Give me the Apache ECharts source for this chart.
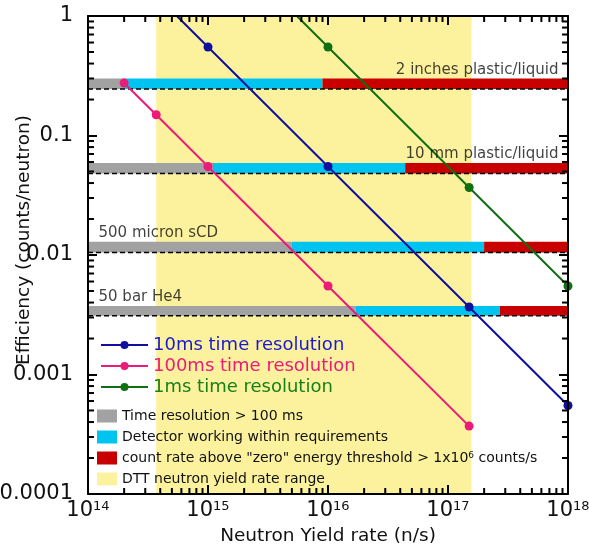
<!DOCTYPE html>
<html>
<head>
<meta charset="utf-8">
<script src="https://cdn.jsdelivr.net/npm/echarts@6/dist/echarts.min.js"></script>
<style>
  html, body { margin: 0; padding: 0; background: #fff; }
  #main { width: 589px; height: 551px; }
</style>
</head>
<body>
<div id="main"></div>
<script>
// Axis ranges (log scale)
const xRange = [1e14, 1e18];
const yRange = [1e-4, 1];
const xDecades = [14, 15, 16, 17];
const yDecades = [-4, -3, -2, -1];
const yTickLabels = { '-4': '0.0001', '-3': '0.001', '-2': '0.01', '-1': '0.1', '0': '1' };

// Efficiency vs neutron yield rate for each time resolution
// (first point of 10ms and 1ms is where the line leaves the frame)
const res10ms = [[5.5e14, 1], [1e15, 0.55], [1e16, 0.055], [1.5e17, 0.00367], [1e18, 0.00055]];
const res100ms = [[2e14, 0.275], [3.7e14, 0.149], [1e15, 0.055], [1e16, 0.0055], [1.5e17, 0.00037]];
const res1ms = [[5.5e15, 1], [1e16, 0.55], [1.5e17, 0.0367], [1e18, 0.0055]];

// Detectors: efficiency (dashed), band top, end of slow region, start of saturation
const detectorNames = ['2 inches plastic/liquid', '10 mm plastic/liquid', '500 micron sCD', '50 bar He4'];
const detectorEfficiency = [0.245, 0.048, 0.0105, 0.0031];
const detectorBandTop = [0.30, 0.059, 0.0129, 0.00375];
const slowUntil = [2e14, 1.1e15, 5e15, 1.7e16];
const saturatedFrom = [9e15, 4.4e16, 2.0e17, 2.7e17];
const labelAtRight = [true, true, false, false];

// DTT neutron yield rate range
const dttRange = [3.7e14, 1.57e17];

const legendBoxes = ['Time resolution > 100 ms', 'Detector working within requirements',
  'count rate above "zero" energy threshold > 1x10^6 counts/s', 'DTT neutron yield rate range'];

const C = {
  blue: '#10109e', pink: '#ec1a78', green: '#0f6f12',
  gray: '#a2a2a2', cyan: '#00c4f0', red: '#c80000', yellow: '#fcf29d'
};
const FONT = 'DejaVu Sans';

function rectItem(params, api) {
  const a = api.coord([api.value(0), api.value(3)]);
  const b = api.coord([api.value(1), api.value(2)]);
  return { type: 'rect', shape: { x: a[0], y: a[1], width: b[0] - a[0], height: b[1] - a[1] }, style: api.style() };
}

const slowBands = detectorNames.map((n, i) => [xRange[0], slowUntil[i], detectorEfficiency[i], detectorBandTop[i]]);
const okBands = detectorNames.map((n, i) => [slowUntil[i], saturatedFrom[i], detectorEfficiency[i], detectorBandTop[i]]);
const satBands = detectorNames.map((n, i) => [saturatedFrom[i], xRange[1], detectorEfficiency[i], detectorBandTop[i]]);

function bandSeries(name, data, color, z) {
  return {
    name, type: 'custom', renderItem: rectItem, data, z,
    encode: { x: [0, 1], y: [2, 3] }, itemStyle: { color }, silent: true
  };
}

// minor (2..9) tick values for each decade
const xMinor = [];
xDecades.forEach(d => { for (let m = 2; m <= 9; m++) xMinor.push(m * Math.pow(10, d)); });
const yMinor = [];
yDecades.forEach(d => { for (let m = 2; m <= 9; m++) yMinor.push(m * Math.pow(10, d)); });

function lineSeries(name, data, color, edgeStart) {
  return {
    name, type: 'line', data: data.map((p, i) => (edgeStart && i === 0) ? { value: p, symbol: 'none' } : p),
    symbol: 'circle', symbolSize: 9, color, z: 10,
    lineStyle: { width: 2, color }, itemStyle: { color }
  };
}

const dashedSeries = detectorNames.map((n, i) => ({
  name: 'eff-' + i, type: 'line', symbol: 'none', z: 6, silent: true,
  data: [[xRange[0], detectorEfficiency[i]], [xRange[1], detectorEfficiency[i]]],
  lineStyle: { color: '#000', width: 1.5, type: [5, 3] }
}));

const labelSeries = {
  name: 'detector-labels', type: 'scatter', symbolSize: 1, z: 12, silent: true,
  itemStyle: { color: 'transparent' },
  data: detectorNames.map((n, i) => ({
    name: n,
    value: [labelAtRight[i] ? xRange[1] : xRange[0], detectorEfficiency[i]],
    label: {
      show: true, formatter: '{b}', position: labelAtRight[i] ? 'left' : 'right',
      distance: labelAtRight[i] ? 9 : 10, offset: [0, -19],
      fontFamily: FONT, fontSize: 15, color: '#111'
    }
  }))
};

const axisLine = { show: true, lineStyle: { color: '#000', width: 2 } };
const majorTick = { show: true, inside: true, length: 9, lineStyle: { color: '#000', width: 2 } };

const option = {
  animation: false,
  backgroundColor: '#fff',
  grid: { left: 88, right: 21, top: 16, bottom: 57, outerBoundsMode: 'none' },
  xAxis: [{
    type: 'log', min: xRange[0], max: xRange[1], logBase: 10, z: 30,
    name: 'Neutron Yield rate (n/s)', nameLocation: 'middle', nameGap: 33, nameMoveOverlap: false,
    nameTextStyle: { fontFamily: FONT, fontSize: 18.5, color: '#111' },
    axisLine, axisTick: majorTick, splitLine: { show: false },
    axisLabel: {
      margin: 6, color: '#111',
      formatter: v => '{b|10}{sup|' + Math.round(Math.log10(v)) + '}',
      rich: {
        b: { fontFamily: FONT, fontSize: 21, lineHeight: 22, color: '#111' },
        sup: { fontFamily: FONT, fontSize: 13, verticalAlign: 'top', lineHeight: 13, color: '#111' }
      }
    }
  }, {
    type: 'log', position: 'top', min: xRange[0], max: xRange[1], logBase: 10, z: 30,
    axisLine, axisTick: majorTick, axisLabel: { show: false }, splitLine: { show: false }
  }],
  yAxis: [{
    type: 'log', min: yRange[0], max: yRange[1], logBase: 10, z: 30,
    name: 'Efficiency (counts/neutron)', nameLocation: 'middle', nameGap: 54, nameMoveOverlap: false,
    nameTextStyle: { fontFamily: FONT, fontSize: 18.5, color: '#111', padding: [0, 0, 0, 30] },
    axisLine, axisTick: majorTick, splitLine: { show: false },
    axisLabel: {
      margin: 15, fontFamily: FONT, fontSize: 21, color: '#111',
      formatter: v => yTickLabels[String(Math.round(Math.log10(v)))] || ''
    }
  }, {
    type: 'log', position: 'right', min: yRange[0], max: yRange[1], logBase: 10, z: 30,
    axisLine, axisTick: majorTick, axisLabel: { show: false }, splitLine: { show: false }
  }],
  legend: [{
    orient: 'vertical', left: 100, top: 336, padding: 0, itemGap: 3,
    itemWidth: 47, itemHeight: 10, selectedMode: false,
    textStyle: { fontFamily: FONT, fontSize: 18 },
    data: [
      { name: '10ms time resolution', textStyle: { color: '#1a1ad0' } },
      { name: '100ms time resolution', textStyle: { color: C.pink } },
      { name: '1ms time resolution', textStyle: { color: '#17801a' } }
    ]
  }, {
    orient: 'vertical', left: 97, top: 409, padding: 0, itemGap: 7,
    itemWidth: 20, itemHeight: 13, selectedMode: false, icon: 'rect',
    textStyle: {
      fontFamily: FONT, fontSize: 14, color: '#111',
      rich: {
        n: { fontFamily: FONT, fontSize: 14, color: '#111' },
        sup: { fontFamily: FONT, fontSize: 9, verticalAlign: 'top', color: '#111' }
      }
    },
    formatter: name => {
      const k = name.indexOf('^');
      if (k < 0) return name;
      return '{n|' + name.slice(0, k) + '}{sup|' + name.slice(k + 1, k + 2) + '}{n|' + name.slice(k + 2) + '}';
    },
    data: [
      { name: legendBoxes[0], itemStyle: { color: C.gray } },
      { name: legendBoxes[1], itemStyle: { color: C.cyan } },
      { name: legendBoxes[2], itemStyle: { color: C.red } },
      { name: legendBoxes[3], itemStyle: { color: C.yellow } }
    ]
  }],
  series: [
    bandSeries(legendBoxes[3], [[dttRange[0], dttRange[1], yRange[0], yRange[1]]], C.yellow, 1),
    bandSeries(legendBoxes[0], slowBands, C.gray, 3),
    bandSeries(legendBoxes[1], okBands, C.cyan, 3),
    bandSeries(legendBoxes[2], satBands, C.red, 3),
    ...dashedSeries,
    lineSeries('10ms time resolution', res10ms, C.blue, true),
    lineSeries('100ms time resolution', res100ms, C.pink, false),
    lineSeries('1ms time resolution', res1ms, C.green, true),
    labelSeries
  ]
};

const chart = echarts.init(document.getElementById('main'), null, { renderer: 'canvas' });
chart.setOption(option);

// Minor log ticks (2..9 per decade) on the inner side of all four frame edges,
// placed through the chart's own axis scales.
const MINOR = 6;
const toPx = p => chart.convertToPixel({ gridIndex: 0 }, p);
const tick = (x1, y1, x2, y2) => ({
  type: 'line', silent: true, z: 100,
  shape: { x1, y1, x2, y2 }, style: { stroke: '#000', lineWidth: 2 }
});
const minorTicks = [];
xMinor.forEach(v => {
  const b = toPx([v, yRange[0]]);
  const t = toPx([v, yRange[1]]);
  minorTicks.push(tick(b[0], b[1], b[0], b[1] - MINOR), tick(t[0], t[1], t[0], t[1] + MINOR));
});
yMinor.forEach(v => {
  const l = toPx([xRange[0], v]);
  const r = toPx([xRange[1], v]);
  minorTicks.push(tick(l[0], l[1], l[0] + MINOR, l[1]), tick(r[0], r[1], r[0] - MINOR, r[1]));
});
chart.setOption({ graphic: { elements: minorTicks } });
</script>
</body>
</html>
